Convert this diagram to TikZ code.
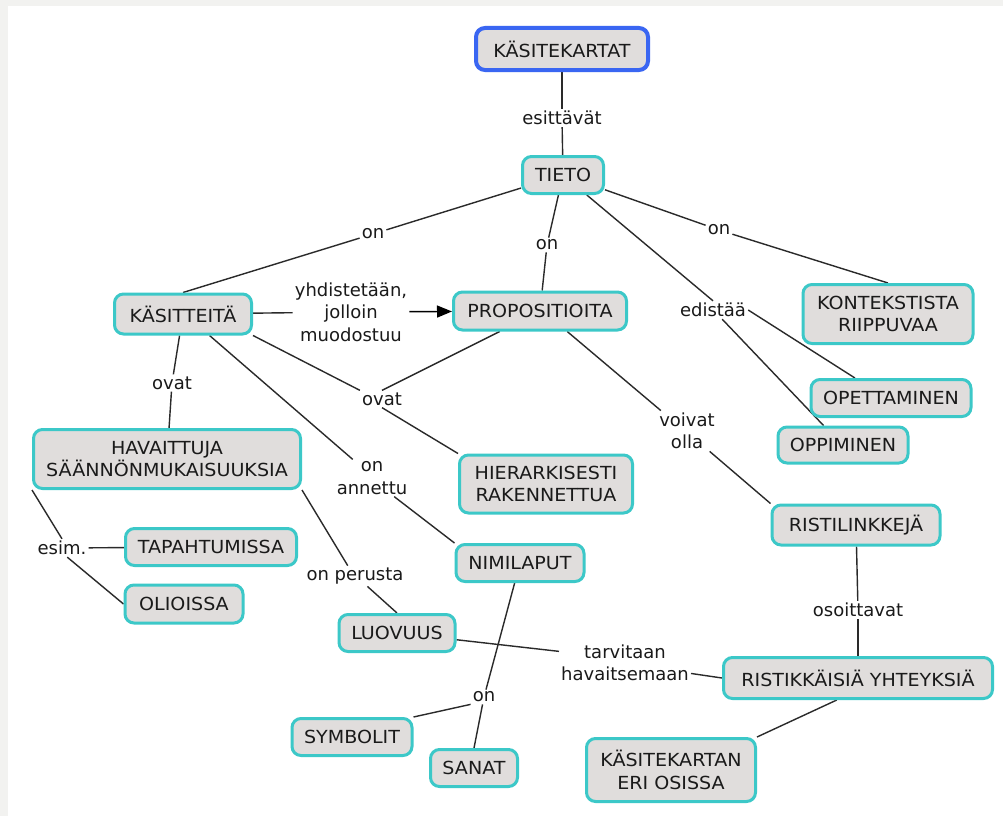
\documentclass[tikz,border=0pt]{standalone}
\usepackage{fontspec}
\setmainfont{DejaVu Sans}
\newfontfamily\conceptfont[FakeStretch=1.06]{DejaVu Sans}
\usetikzlibrary{arrows.meta}
\pgfdeclarelayer{paper}
\pgfdeclarelayer{wires}
\pgfsetlayers{paper,wires,main}

\definecolor{cmapfill}{HTML}{E0DDDC}
\definecolor{cmapteal}{HTML}{3CC8C8}
\definecolor{cmapblue}{HTML}{3A66F2}
\definecolor{cmapline}{HTML}{2A2A2A}
\definecolor{cmaptext}{HTML}{1A1A1A}
\definecolor{pagegray}{HTML}{F2F2F0}

\begin{document}
\begin{tikzpicture}[x=1pt,y=-1pt,
  every node/.style={font=\fontsize{18}{22.5}\selectfont, text=cmaptext},
  concept/.style={draw=cmapteal, line width=3pt, fill=cmapfill,
    rounded corners=9pt, align=center, inner sep=0pt,
    font=\conceptfont\fontsize{18}{22.5}\selectfont},
  rootconcept/.style={concept, draw=cmapblue, line width=4pt},
  phrase/.style={align=center, inner sep=2pt},
  link/.style={draw=cmapline, line width=1.4pt},
]
\useasboundingbox (0,0) rectangle (1003,816);
\begin{pgfonlayer}{paper}
  \fill[pagegray] (0,0) rectangle (1003,816);
  \fill[white] (8,6) rectangle (1003,816);
\end{pgfonlayer}

% concepts
\node[rootconcept, minimum width=172pt, minimum height=42pt] (kk) at (562,49) {KÄSITEKARTAT};
\node[concept, minimum width=81pt, minimum height=37pt] (tieto) at (563,175) {TIETO};
\node[concept, minimum width=137pt, minimum height=40pt] (kas) at (183,314) {KÄSITTEITÄ};
\node[concept, minimum width=173pt, minimum height=38pt] (prop) at (540,311) {PROPOSITIOITA};
\node[concept, minimum width=170pt, minimum height=59pt] (kont) at (888,314) {KONTEKSTISTA\\RIIPPUVAA};
\node[concept, minimum width=160pt, minimum height=37pt] (opet) at (891,398) {OPETTAMINEN};
\node[concept, minimum width=130pt, minimum height=36pt] (oppi) at (843,445) {OPPIMINEN};
\node[concept, minimum width=267pt, minimum height=59pt] (hav) at (167,459) {HAVAITTUJA\\SÄÄNNÖNMUKAISUUKSIA};
\node[concept, minimum width=173pt, minimum height=58pt] (hier) at (546,484) {HIERARKISESTI\\RAKENNETTUA};
\node[concept, minimum width=168pt, minimum height=40pt] (ristl) at (856,525) {RISTILINKKEJÄ};
\node[concept, minimum width=171pt, minimum height=37pt] (tap) at (211,547) {TAPAHTUMISSA};
\node[concept, minimum width=118pt, minimum height=38pt] (oli) at (184,604) {OLIOISSA};
\node[concept, minimum width=128pt, minimum height=37pt] (nim) at (520,563) {NIMILAPUT};
\node[concept, minimum width=116pt, minimum height=37pt] (luov) at (397,633) {LUOVUUS};
\node[concept, minimum width=269pt, minimum height=41pt] (ristk) at (858,678) {RISTIKKÄISIÄ YHTEYKSIÄ};
\node[concept, minimum width=120pt, minimum height=37pt] (symb) at (352,737) {SYMBOLIT};
\node[concept, minimum width=87pt, minimum height=37pt] (sanat) at (474,768) {SANAT};
\node[concept, minimum width=169pt, minimum height=63pt] (kek) at (671,770) {KÄSITEKARTAN\\ERI OSISSA};

% linking phrases
\node[phrase] (esit) at (562,118) {esittävät};
\node[phrase] (on1) at (373,234) {on};
\node[phrase] (on2) at (547,245) {on};
\node[phrase] (on3) at (719,230) {on};
\node[phrase] (edis) at (713,310) {edistää};
\node[phrase] (yhd) at (351,312) {yhdistetään,\\jolloin\\muodostuu};
\node[phrase] (ovat1) at (172,383) {ovat};
\node[phrase] (ovat2) at (382,399) {ovat};
\node[phrase] (onan) at (372,478) {on\\annettu};
\node[phrase] (voiv) at (687,431) {voivat\\olla};
\node[phrase] (esim) at (62,548) {esim.};
\node[phrase] (onper) at (355,576) {on perusta};
\node[phrase] (osoi) at (858,610) {osoittavat};
\node[phrase] (tarv) at (625,663) {tarvitaan\\havaitsemaan};
\node[phrase] (on4) at (484,697) {on};

% connectors
\begin{pgfonlayer}{wires}
  \draw[link] (kk) -- (esit);
  \draw[link] (esit) -- (tieto);
  \draw[link] (tieto) -- (on1);
  \draw[link] (on1) -- (kas.north);
  \draw[link] (tieto) -- (on2);
  \draw[link] (on2) -- (prop);
  \draw[link] (tieto) -- (on3);
  \draw[link] (on3) -- (kont.north);
  \draw[link] (tieto) -- (edis.north);
  \draw[link] (edis.east) -- (opet.151);
  \draw[link] (edis.-45) -- (oppi.135);
  \draw[link] (kas) -- (yhd);
  \draw[link, draw=black, -{Triangle[length=15pt,width=12pt]}] (yhd) -- (prop);
  \draw[link] (kas) -- (ovat1);
  \draw[link] (ovat1) -- (hav);
  \draw[link] (kas.south east) -- (ovat2.north west);
  \draw[link] (prop.207) -- (ovat2.north);
  \draw[link] (ovat2.south) -- (hier.north west);
  \draw[link] (kas.-39) -- (onan.136);
  \draw[link] (onan.-40) -- (nim.north west);
  \draw[link] (hav.south west) -- (esim.north);
  \draw[link] (esim) -- (tap);
  \draw[link] (esim.-60) -- (oli.west);
  \draw[link] (hav.south east) -- (onper.125);
  \draw[link] (onper.-40) -- (luov.north);
  \draw[link] (prop.-37) -- (voiv.142);
  \draw[link] (voiv.-42) -- (ristl.north west);
  \draw[link] (ristl) -- (osoi);
  \draw[link] (osoi) -- (ristk);
  \draw[link] (luov) -- (tarv.170);
  \draw[link] (tarv.-9) -- (ristk.west);
  \draw[link] (nim) -- (on4);
  \draw[link] (on4.south west) -- (symb.north east);
  \draw[link] (on4) -- (sanat.north);
  \draw[link] (ristk.226) -- (kek.north east);
\end{pgfonlayer}
\end{tikzpicture}
\end{document}
